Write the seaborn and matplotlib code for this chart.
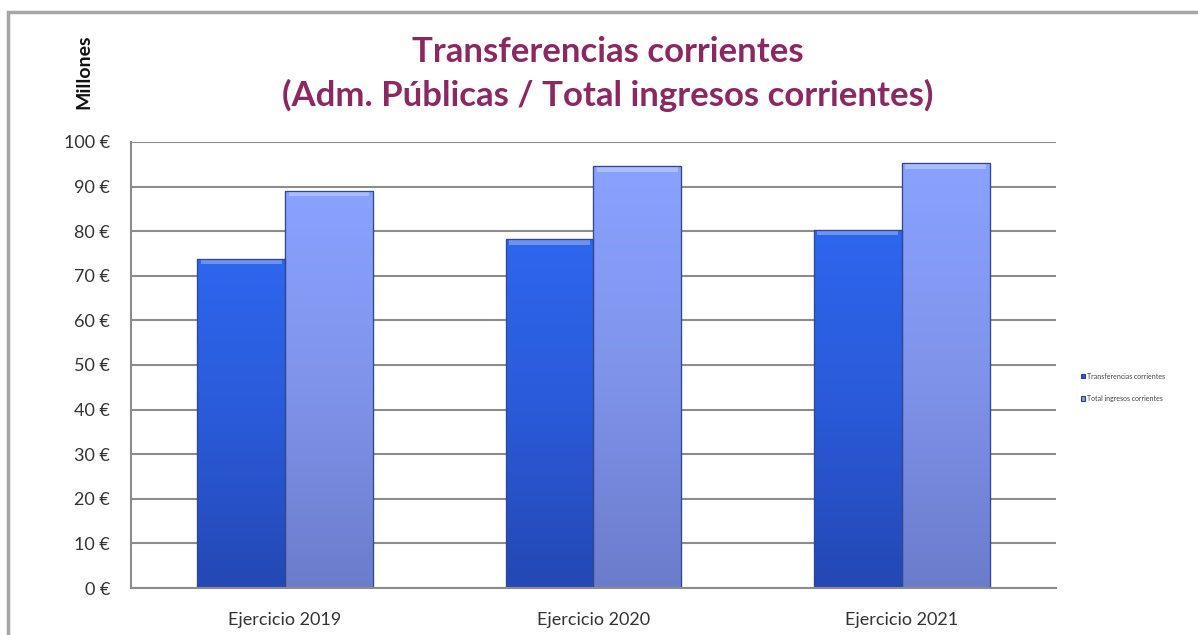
import numpy as np
import pandas as pd
import matplotlib
matplotlib.use("Agg")
import matplotlib.pyplot as plt
import seaborn as sns
from matplotlib.colors import LinearSegmentedColormap
from matplotlib.patches import Rectangle

# data (millions of euros)
ejercicios = ["Ejercicio 2019", "Ejercicio 2020", "Ejercicio 2021"]
series = ["Transferencias corrientes", "Total ingresos corrientes"]
transferencias = [73.8, 78.2, 80.3]
total_ingresos = [89.0, 94.5, 95.2]
yticks = list(range(0, 101, 10))

df = pd.DataFrame({
    "ejercicio": ejercicios * 2,
    "serie": [series[0]] * 3 + [series[1]] * 3,
    "valor": transferencias + total_ingresos,
})

sns.set_style("white")
plt.rcParams["font.family"] = ["Lato", "DejaVu Sans"]

fig = plt.figure(figsize=(11.98, 6.35), dpi=100)
ax = fig.add_axes([0.1093, 0.074, 0.772, 0.7025])

base_colors = ["#2a58dc", "#8098f4"]
sns.barplot(data=df, x="ejercicio", y="valor", hue="serie", palette=base_colors,
            width=0.57, saturation=1, ax=ax, edgecolor="#2c3f8a", linewidth=0.8)

# vertical gradients to mimic the bevelled Excel bars
grads = [
    LinearSegmentedColormap.from_list("g0", ["#2448b4", "#2a5ad8", "#2e66ee"]),
    LinearSegmentedColormap.from_list("g1", ["#6c7ccc", "#7f93ea", "#8aa2ff"]),
]
for k, cont in enumerate(ax.containers):
    for p in cont.patches:
        x0, w, h = p.get_x(), p.get_width(), p.get_height()
        g = np.linspace(0, 1, 256).reshape(-1, 1)
        im = ax.imshow(g, extent=[x0, x0 + w, 0, h], origin="lower", aspect="auto",
                       cmap=grads[k], zorder=p.get_zorder() + 0.1)
        im.set_clip_path(p)
        # light bevel on top
        ax.add_patch(Rectangle((x0 + w * 0.04, h - 1.2), w * 0.92, 1.0,
                               facecolor="white", alpha=0.3, edgecolor="none",
                               zorder=p.get_zorder() + 0.2))
        ax.add_patch(Rectangle((x0, 0), w, h, facecolor="none", edgecolor="#33478f",
                               linewidth=0.9, zorder=p.get_zorder() + 0.3))

ax.set_xlim(-0.5, 2.5)
ax.set_ylim(0, 100)
ax.set_yticks(yticks)
ax.set_yticklabels([f"{v} €" for v in yticks], fontsize=13, color="#333333")
ax.tick_params(axis="x", labelsize=13, labelcolor="#333333", pad=17, length=0)
ax.tick_params(axis="y", pad=15, length=0)
ax.set_xlabel("")
ax.set_ylabel("")
ax.yaxis.grid(True, color="#8c8c8c", linewidth=1.5)
ax.set_axisbelow(True)
for s in ["top", "right"]:
    ax.spines[s].set_visible(False)
for s in ["left", "bottom"]:
    ax.spines[s].set_color("#8c8c8c")
    ax.spines[s].set_linewidth(1.5)

handles, labels = ax.get_legend_handles_labels()
ax.get_legend().remove()
fig.legend(handles, labels, loc="center left", bbox_to_anchor=(0.897, 0.39),
           frameon=False, fontsize=5, handlelength=0.6, handleheight=0.6,
           handletextpad=0.3, labelspacing=2.2, labelcolor="#444444")

fig.text(0.507, 0.918, "Transferencias corrientes", ha="center", va="center",
         fontsize=25, fontweight="bold", color="#8b2862")
fig.text(0.507, 0.85, "(Adm. Públicas / Total ingresos corrientes)", ha="center",
         va="center", fontsize=25, fontweight="bold", color="#8b2862")
fig.text(0.07, 0.887, "Millones", rotation=90, ha="center", va="center",
         fontsize=14, fontweight="bold", color="#111111")

# outer frame
fig.patches.append(Rectangle((8 / 1198, -0.01), 1.1, 0.996 - 9 / 635 + 0.01,
                             transform=fig.transFigure, fill=False,
                             edgecolor="#a6a6a6", linewidth=2.5, figure=fig))

fig.savefig("out.png", dpi=100)
